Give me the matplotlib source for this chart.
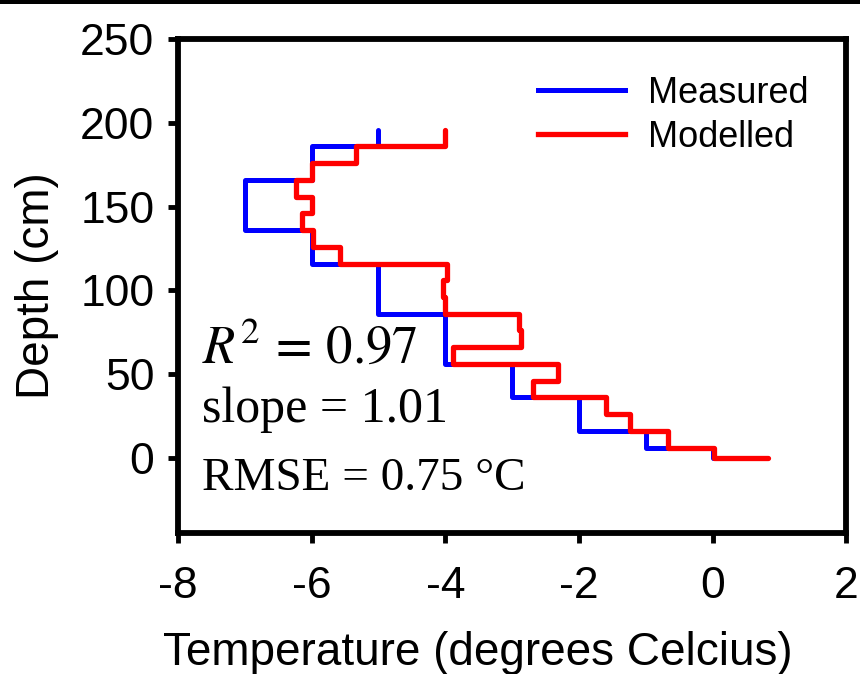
import matplotlib
matplotlib.use("Agg")
import matplotlib.pyplot as plt
from matplotlib.patches import Rectangle

# measured profile: layer edges (cm) and temperature in each layer
meas_edges = [0, 6, 16, 36, 56, 86, 116, 136, 166, 186, 196]
meas_temp = [0, -1, -2, -3, -4, -5, -6, -7, -6, -5]

# modelled profile, 10 cm layers (first zero-width layer = surface value)
mod_edges = [0, 0, 6, 16, 26, 36, 46, 56, 66, 76, 86, 96, 106, 116,
             126, 136, 146, 156, 166, 176, 186, 196]
mod_temp = [0.83, 0.02, -0.67, -1.24, -1.6, -2.69, -2.32, -3.89, -2.86, -2.89,
            -4.0, -4.03, -3.98, -5.57, -5.98, -6.14, -6.0, -6.23, -6.0, -5.33, -4.0]

stats = [r"$R^2\,=\,0.97$", "slope = 1.01", "RMSE = 0.75 \u00b0C"]

plt.rcParams["font.family"] = ["Liberation Sans", "DejaVu Sans"]
plt.rcParams["mathtext.fontset"] = "stix"
plt.rcParams["axes.unicode_minus"] = False

fig = plt.figure(figsize=(8.6, 6.74), dpi=100)
ax = fig.add_axes([0.207, 0.209, 0.777, 0.733])

ax.stairs(meas_temp, meas_edges, orientation="horizontal", baseline=None,
          color="#0000ff", linewidth=3.6, capstyle="round", joinstyle="round", label="Measured")
ax.stairs(mod_temp, mod_edges, orientation="horizontal", baseline=None,
          color="#ff0000", linewidth=3.8, capstyle="round", joinstyle="round", label="Modelled")

ax.set_xlim(-8, 2)
ax.set_ylim(-45, 250)
ax.set_xticks(range(-8, 3, 2))
ax.set_yticks(range(0, 251, 50))
ax.tick_params(direction="out", length=7, width=3.5, labelsize=32)
ax.tick_params(axis="x", pad=17)
ax.tick_params(axis="y", pad=10)
for s in ax.spines.values():
    s.set_linewidth(4.2)
ax.set_xlabel("Temperature (degrees Celcius)", fontsize=33)
ax.set_ylabel("Depth (cm)", fontsize=33)
ax.xaxis.set_label_coords(0.448, -0.198)
ax.yaxis.set_label_coords(-0.178, 0.5)

ax.text(-7.64, 56.7, stats[0], fontsize=38, va="baseline")
ax.text(-7.64, 21.5, stats[1], fontsize=36, va="baseline", family="Liberation Serif")
ax.text(-7.64, -19.1, stats[2], fontsize=34, va="baseline", family="Liberation Serif")

ax.legend(loc="upper left", bbox_to_anchor=(0.539, 0.926), frameon=False, fontsize=26,
          handlelength=2.4, handletextpad=0.64, borderpad=0, borderaxespad=0, labelspacing=0.25)

fig.add_artist(Rectangle((0, 1 - 4 / 674), 1, 4 / 674, transform=fig.transFigure,
                         color="black", lw=0))

fig.savefig("out.png", dpi=100)
